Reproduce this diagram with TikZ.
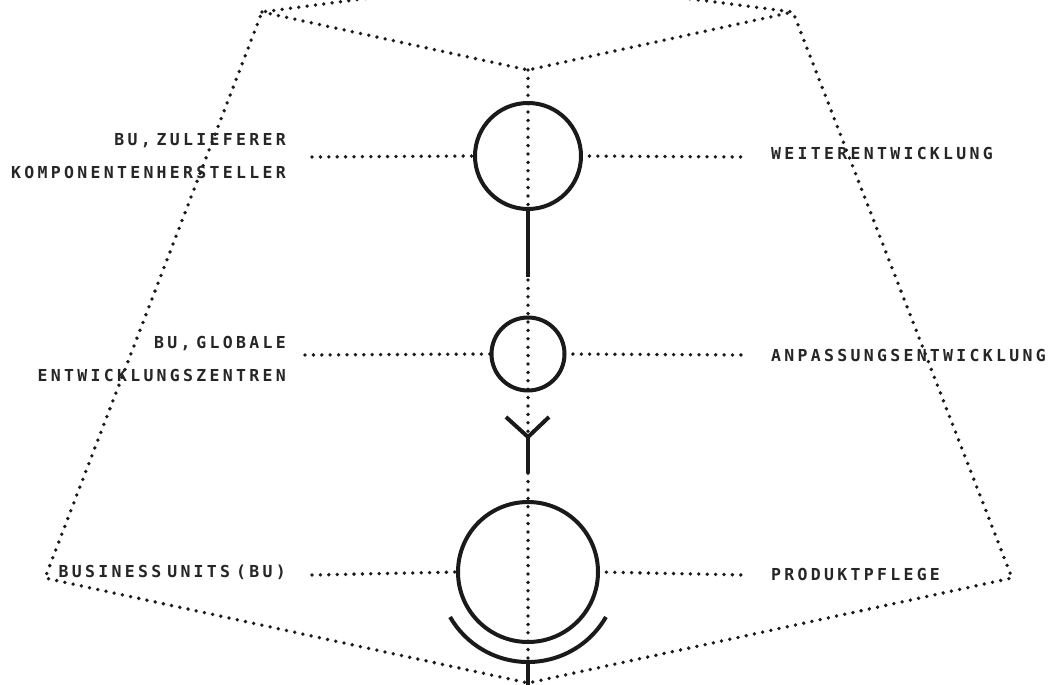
\documentclass[tikz,border=0pt]{standalone}
\usepackage{fontspec}
\usetikzlibrary{calc}
\newfontfamily\labfont[LetterSpace=20]{DejaVu Sans Mono Bold}
\definecolor{ink}{HTML}{1A1A1A}
\definecolor{txt}{HTML}{262626}
\newcommand{\gapsp}{\rule{6pt}{0pt}}
\begin{document}
\begin{tikzpicture}[x=1pt,y=-1pt,
  dots/.style={draw=ink, line width=3.8pt, dash pattern=on 0pt off 8.4pt, line cap=round},
  boldstroke/.style={draw=ink, line width=4pt},
  ring/.style={circle, draw=ink, line width=4pt, inner sep=0pt, outer sep=0pt},
  lab/.style={font={\fontsize{16.5}{32.5}\selectfont\labfont}, text=txt, inner sep=0pt}
]
\path[use as bounding box, fill=white] (0,0) rectangle (1055,685);
\clip (0,0) rectangle (1055,685);

% outline frame
\coordinate (TLx) at (507,-20);
\coordinate (TL) at (262,12);
\coordinate (V) at (528,70);
\coordinate (TR) at (793,12);
\coordinate (TRx) at (543,-20);
\coordinate (BL) at (45,578);
\coordinate (BR) at (1012,578);
\coordinate (B) at (528,683);

\draw[dots] (TLx) -- (TL) -- (BL) -- (B) -- (BR) -- (TR) -- (TRx);
\draw[dots] (TL) -- (V) -- (TR);
\draw[dots] (V) -- (B);

% circles
\node[ring, minimum size=106pt] (c1) at (528,156) {};
\node[ring, minimum size=73pt] (c2) at (528,354) {};
\node[ring, minimum size=140pt] (c3) at (528,572) {};

% stems and symbols
\draw[boldstroke] (c1.south) -- ++(0,68);
\coordinate (yj) at (528,437);
\draw[boldstroke] (yj) -- ++(-22,-20);
\draw[boldstroke] (yj) -- ++(21,-20);
\draw[boldstroke] (yj) -- ++(0,36);
\draw[boldstroke] (c3.center) ++(30:90) arc[start angle=30, end angle=150, radius=90];
\draw[boldstroke] (c3.center) ++(0,90) -- ++(0,30);

% labels
\node[lab, anchor=east, align=right] (L1) at (286,156.3) {BU,\gapsp ZULIEFERER\\KOMPONENTENHERSTELLER};
\node[lab, anchor=east, align=right] (L2) at (286,359.2) {BU,\gapsp GLOBALE\\ENTWICKLUNGSZENTREN};
\node[lab, anchor=base east] (L3) at (286,577) {BUSINESS\gapsp UNITS\gapsp (BU)};
\node[lab, anchor=base west] (R1) at (771,159) {WEITERENTWICKLUNG};
\node[lab, anchor=base west] (R2) at (771,361) {ANPASSUNGSENTWICKLUNG};
\node[lab, anchor=base west] (R3) at (771,580) {PRODUKTPFLEGE};

% dotted connectors
\coordinate (a1) at (312,157);
\coordinate (b1) at (745,157);
\coordinate (a2) at (305,355);
\coordinate (b2) at (745,355);
\coordinate (a3) at (312,575);
\coordinate (b3) at (745,575);
\draw[dots] (a1) -- (c1.west);
\draw[dots] (c1.east) -- (b1);
\draw[dots] (a2) -- (c2.west);
\draw[dots] (c2.east) -- (b2);
\draw[dots] (a3) -- (c3.west);
\draw[dots] (c3.east) -- (b3);
\end{tikzpicture}
\end{document}
